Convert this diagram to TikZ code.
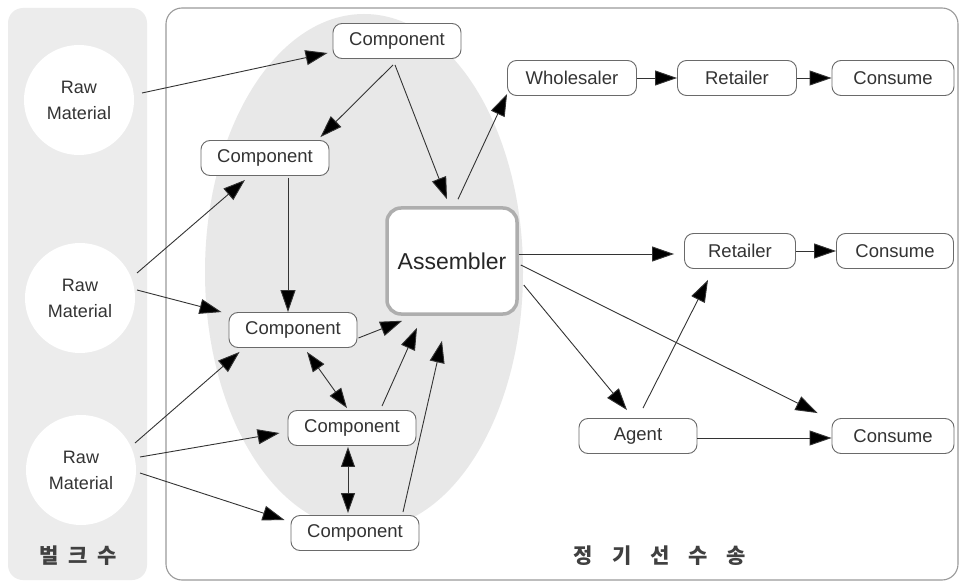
\documentclass[tikz,border=0pt]{standalone}
\usepackage{fontspec}
\setmainfont{Liberation Sans}
\newfontfamily\krfont{Noto Sans CJK KR}
\usetikzlibrary{arrows.meta,calc}
\definecolor{panel}{HTML}{ECECEC}
\definecolor{blob}{HTML}{E8E8E8}
\definecolor{frame}{HTML}{9A9A9A}
\definecolor{boxline}{HTML}{6A6A6A}
\definecolor{linec}{HTML}{333333}
\definecolor{txt}{HTML}{333333}
\begin{document}
\begin{tikzpicture}[x=1pt,y=-1pt,
  box/.style={draw=boxline, line width=0.9pt, rounded corners=9pt, fill=white,
    minimum height=35pt, inner sep=0pt, text=txt, font=\fontsize{18.5}{20}\selectfont},
  raw/.style={circle, fill=white, minimum size=110pt, inner sep=0pt, align=center,
    text=txt, font=\fontsize{18}{26}\selectfont},
  asmbox/.style={draw=frame!80, line width=3.5pt, rounded corners=14pt, fill=white,
    minimum width=130pt, minimum height=106pt, text=black!85,
    font=\fontsize{23}{26}\selectfont},
  arr/.style={draw=linec, line width=0.9pt,
    -{Triangle[length=22pt,width=15pt,fill=black]}},
  biarr/.style={draw=linec, line width=0.9pt,
    {Triangle[length=20pt,width=14pt,fill=black]}-{Triangle[length=20pt,width=14pt,fill=black]}},
  krlabel/.style={text=black!75, font=\krfont\bfseries\fontsize{21}{24}\selectfont},
]
% canvas
\path[fill=white] (0,0) rectangle (962,583);
\useasboundingbox (0,0) rectangle (962,583);

% left panel: bulk transport
\fill[panel, rounded corners=15pt] (8,8) rectangle (147,580);
% right panel: liner transport
\draw[frame, line width=1.1pt, rounded corners=16pt] (166,8) rectangle (958,580);
% assembly zone
\fill[blob] (364,272) ellipse [x radius=159, y radius=258];

% raw materials
\node[raw] (raw1) at (79,100) {Raw\\Material};
\node[raw] (raw2) at (80,298) {Raw\\Material};
\node[raw] (raw3) at (81,470) {Raw\\Material};

% components
\node[box, minimum width=128pt] (c1) at (397,41)  {Component};
\node[box, minimum width=128pt] (c2) at (265,158) {Component};
\node[box, minimum width=128pt] (c3) at (293,330) {Component};
\node[box, minimum width=128pt] (c4) at (352,428) {Component};
\node[box, minimum width=128pt] (c5) at (355,533) {Component};

% assembler
\node[asmbox] (asm) at (452,261) {Assembler};

% distribution
\node[box, minimum width=129pt] (whole) at (572,78)  {Wholesaler};
\node[box, minimum width=119pt] (ret1)  at (737,78)  {Retailer};
\node[box, minimum width=122pt] (con1)  at (893,78)  {Consume};
\node[box, minimum width=111pt] (ret2)  at (740,251) {Retailer};
\node[box, minimum width=117pt] (con2)  at (895,251) {Consume};
\node[box, minimum width=118pt] (agent) at (638,436) {Agent};
\node[box, minimum width=122pt] (con3)  at (893,436) {Consume};

% labels
\node[krlabel] (bulk) at (78,556) {\spaceskip=10pt 벌 크 수};
\node[krlabel] (liner) at (660,556) {\spaceskip=19pt 정 기 선 수 송};

% raw materials -> components
\draw[arr] ($(raw1.center)+(63,-7)$) -- ($(c1.west)+(-5,12)$);
\draw[arr] ($(raw2.center)+(57,-25)$) -- ($(c2.south)+(-20,4)$);
\draw[arr] ($(raw2.center)+(57,-8)$) -- ($(c3.north west)+(-7,0)$);
\draw[arr] ($(raw3.center)+(54,-27)$) -- ($(c3.south west)+(11,4)$);
\draw[arr] ($(raw3.center)+(59,-13)$) -- ($(c4.west)+(-8,5)$);
\draw[arr] ($(raw3.center)+(59,3)$) -- ($(c5.west)+(-6,-13)$);

% component flows
\draw[arr] ($(c1.south)+(-4,6)$) -- ($(c2.north east)+(-9,-3)$);
\draw[arr] ($(c1.south)+(-2,6)$) -- ($(asm.north)+(-5,-7)$);
\draw[arr] ($(c2.south)+(23,2)$) -- ($(c3.north)+(-5,0)$);
\draw[biarr] ($(c3.south)+(14,4)$) -- ($(c4.north)+(-5,-2)$);
\draw[biarr] ($(c4.south)+(-4,1)$) -- ($(c5.north)+(-7,-2)$);
\draw[arr] ($(c3.east)+(1,8)$) -- ($(asm.south west)+(17,5)$);
\draw[arr] ($(c4.north)+(30,-4)$) -- ($(asm.south)+(-35,12)$);
\draw[arr] ($(c5.north)+(48,-3)$) -- ($(asm.south)+(-10,25)$);

% assembler -> market
\draw[arr] ($(asm.north)+(6,-7)$) -- ($(whole.south west)+(0,-2)$);
\draw[arr] (whole.east) -- (ret1.west);
\draw[arr] (ret1.east) -- (con1.west);
\draw[arr] ($(asm.east)+(0,-7)$) -- ($(ret2.west)+(-10,3)$);
\draw[arr] (ret2.east) -- (con2.west);
\draw[arr] ($(asm.east)+(2,4)$) -- ($(con3.north west)+(-14,-5)$);
\draw[arr] ($(asm.east)+(5,24)$) -- ($(agent.north)+(-11,-8)$);
\draw[arr] ($(agent.north)+(5,-10)$) -- ($(ret2.south)+(-32,11)$);
\draw[arr] ($(agent.east)+(0,2)$) -- ($(con3.west)+(0,2)$);
\end{tikzpicture}
\end{document}
